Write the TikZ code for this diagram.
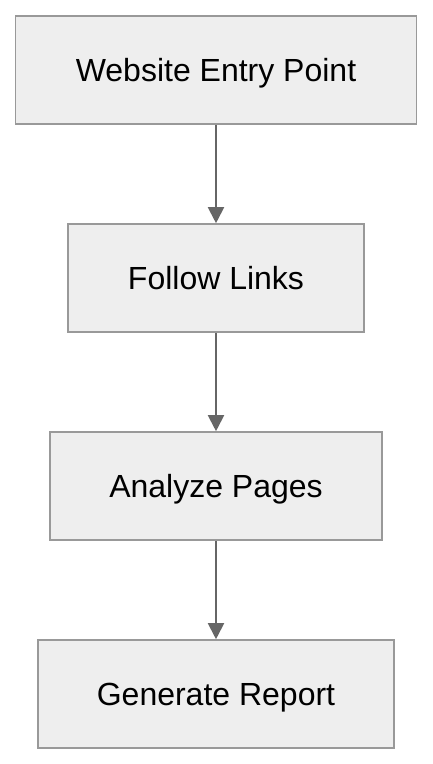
\documentclass[tikz,border=0pt]{standalone}
\usepackage{fontspec}
\setmainfont{Liberation Sans}
\usetikzlibrary{arrows.meta}
\definecolor{boxfill}{HTML}{EEEEEE}
\definecolor{boxline}{HTML}{999999}
\definecolor{arrowc}{HTML}{666666}
\tikzset{
  stepbox/.style={draw=boxline, fill=boxfill, line width=1.6pt, minimum height=108pt, inner sep=0pt,
    text depth=0pt, font=\fontsize{32}{38}\selectfont, text=black},
  flow/.style={draw=arrowc, line width=2pt, -{Triangle[length=16pt,width=16pt]}}
}
\begin{document}
\begin{tikzpicture}[x=1pt,y=-1pt]
\useasboundingbox (0,0) rectangle (432,764);
\node[stepbox, minimum width=401pt] (a) at (216,70) {Website Entry Point};
\node[stepbox, minimum width=296pt] (b) at (216,278) {Follow Links};
\node[stepbox, minimum width=332pt] (c) at (216,486) {Analyze Pages};
\node[stepbox, minimum width=356pt] (d) at (216,694) {Generate Report};
\draw[flow] (a) -- (b);
\draw[flow] (b) -- (c);
\draw[flow] (c) -- (d);
\end{tikzpicture}
\end{document}
